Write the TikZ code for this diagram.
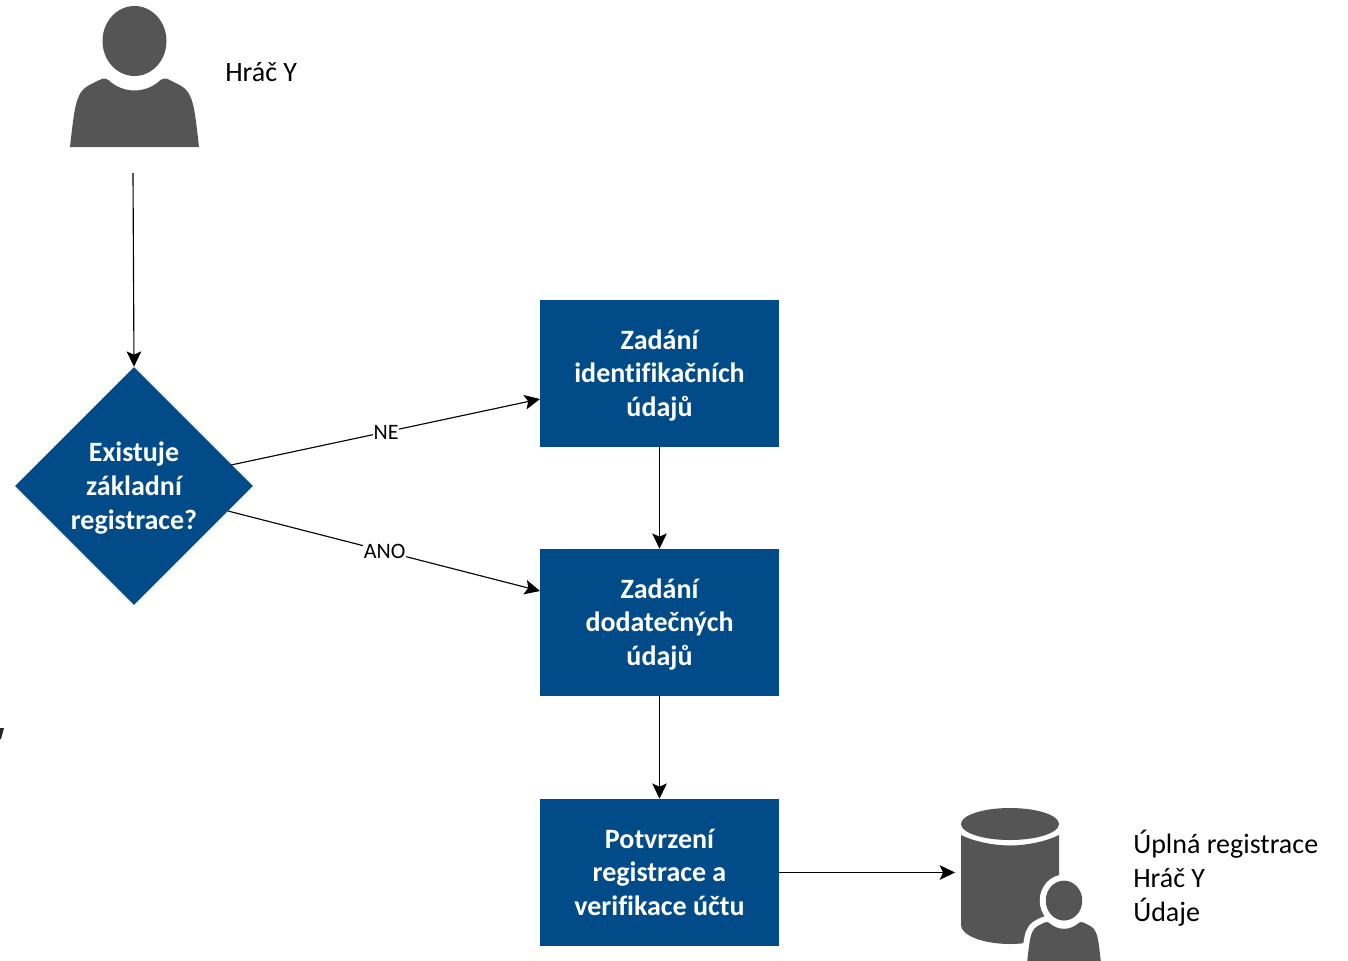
\documentclass[tikz,border=0pt]{standalone}
\usepackage{fontspec}
\setmainfont{Carlito}[Ligatures=NoCommon]
\usetikzlibrary{arrows.meta,shapes.geometric}
\definecolor{boxblue}{HTML}{004B88}
\definecolor{icongray}{HTML}{555555}
\newcommand{\personbodypath}{(-64.5,0) .. controls (-62,-22) and (-60,-42) .. (-56,-50) .. controls (-52,-60) and (-45,-62) .. (-35,-67) .. controls (-32,-69) and (-29,-69) .. (-26,-67) .. controls (-19,-60) and (-9,-56.5) .. (0,-56.5) .. controls (9,-56.5) and (19,-60) .. (26,-67) .. controls (29,-69) and (32,-69) .. (35,-67) .. controls (45,-62) and (52,-60) .. (56,-50) .. controls (60,-42) and (62,-22) .. (64.5,0) -- cycle}
\newcommand{\personheadpath}{(0,-106) ellipse [x radius=32, y radius=35]}
\newcommand{\topfix}{\rule{0pt}{21.5pt}}
\tikzset{
  x=0.75pt, y=-0.75pt,
  stepbox/.style={draw=none, fill=boxblue, text=white, font=\fontsize{21}{25.3}\selectfont\bfseries, align=center, minimum width=239*0.75pt, minimum height=147*0.75pt, inner sep=0pt},
  decision/.style={diamond, aspect=1, fill=boxblue, text=white, font=\fontsize{21}{25.3}\selectfont\bfseries, align=center, minimum width=238*0.75pt, minimum height=238*0.75pt, inner sep=0pt},
  plainlabel/.style={text=black, font=\fontsize{21}{25.3}\selectfont, align=left, anchor=west, inner sep=0pt},
  flow/.style={draw=black, line width=0.85pt, -{Stealth[length=11.5pt,width=11pt,inset=2.5pt]}},
  edgelabel/.style={fill=white, text=black, font=\fontsize{16.5}{19}\selectfont, inner sep=0.5pt, xshift=0.5pt},
}
\begin{document}
\begin{tikzpicture}
\useasboundingbox (0,0) rectangle (1348,960);
\clip (0,0) rectangle (1348,960);
% player icon
\begin{scope}[shift={(134.5,147)}]
  \fill[icongray] \personbodypath;
  \fill[icongray] \personheadpath;
\end{scope}
\node[plainlabel] (player) at (225,72) {Hráč Y};
\coordinate (start) at (133,173);
% process nodes
\node[decision] (exists) at (134,486) {\begin{tabular}{@{}c@{}}\topfix Existuje\\základní\\registrace?\end{tabular}};
\node[stepbox] (ident) at (659.5,373.5) {\begin{tabular}{@{}c@{}}\topfix Zadání\\identifikačních\\údajů\end{tabular}};
\node[stepbox] (extra) at (659.5,622.5) {\begin{tabular}{@{}c@{}}\topfix Zadání\\dodatečných\\údajů\end{tabular}};
\node[stepbox] (confirm) at (659.5,872.5) {\begin{tabular}{@{}c@{}}\topfix Potvrzení\\registrace a\\verifikace účtu\end{tabular}};
\coordinate (neStart) at (231,465);
\coordinate (anoStart) at (228,511);
\coordinate (neEnd) at (540,399);
\coordinate (anoEnd) at (540,591);
% database icon
\fill[icongray] (1010,824) ellipse [x radius=49, y radius=16];
\fill[icongray] (961,835) .. controls (975,842) and (995,845.5) .. (1010,845.5) .. controls (1025,845.5) and (1045,842) .. (1059,835) -- (1059,925) .. controls (1059,936) and (1035,944) .. (1010,944) .. controls (985,944) and (961,936) .. (961,925) -- cycle;
\begin{scope}[shift={(1064,961)}, scale=0.57]
  \draw[white, line width=9pt, line join=round, fill=white] \personbodypath;
  \draw[white, line width=9pt, fill=white] \personheadpath;
  \fill[icongray] \personbodypath;
  \fill[icongray] \personheadpath;
\end{scope}
\coordinate (dbIn) at (955,872.5);
\node[plainlabel] (dbtext) at (1133,878) {Úplná registrace\\Hráč Y\\Údaje};
% connectors
\draw[flow] (start) -- (exists.north);
\draw[flow] (neStart) -- node[edgelabel, pos=0.5] (ne) {NE} (neEnd);
\draw[flow] (anoStart) -- node[edgelabel, pos=0.5] (ano) {ANO} (anoEnd);
\draw[flow] (ident) -- (extra);
\draw[flow] (extra) -- (confirm);
\draw[flow] (confirm) -- (dbIn);
% clipped fragment at left edge
\fill[black!85] (0,728) -- (4,728) -- (1,739) -- (0,739) -- cycle;
\end{tikzpicture}
\end{document}
